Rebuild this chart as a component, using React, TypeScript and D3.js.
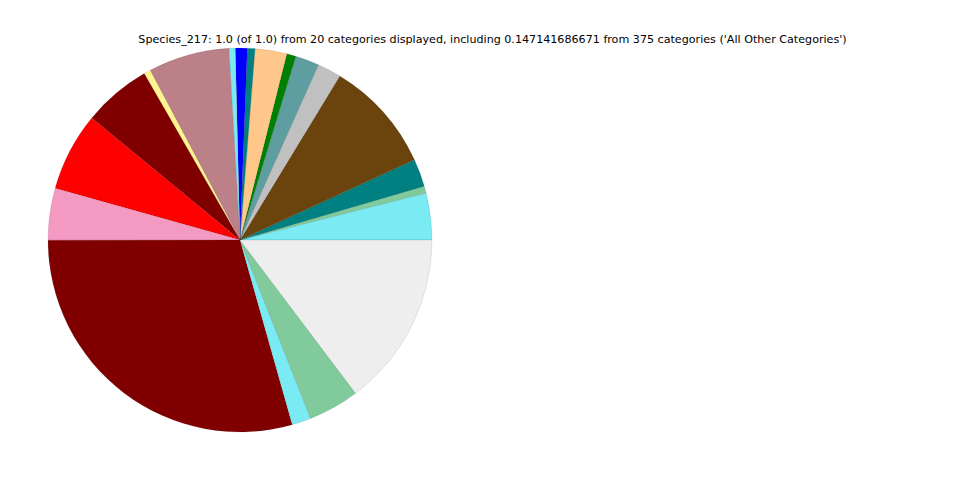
import React from "react";
import * as d3 from "d3";

const title =
  "Species_217: 1.0 (of 1.0) from 20 categories displayed, including 0.147141686671 from 375 categories ('All Other Categories')";

const categories = [
  "Cat 1", "Cat 2", "Cat 3", "Cat 4", "Cat 5", "Cat 6", "Cat 7", "Cat 8", "Cat 9", "Cat 10",
  "Cat 11", "Cat 12", "Cat 13", "Cat 14", "Cat 15", "Cat 16", "Cat 17", "Cat 18", "Cat 19",
  "All Other Categories",
];

const values = [
  0.0394, 0.0058, 0.0233, 0.0944, 0.02, 0.02, 0.0078, 0.0267, 0.0064, 0.01,
  0.0053, 0.0683, 0.0056, 0.0572, 0.0661, 0.0436, 0.2936, 0.0161, 0.0428, 0.1471,
];

const colors = [
  "#7AEBF2", "#80CA9B", "#008080", "#6B440D", "#C0C0C0", "#5F9EA0", "#008000", "#FFC78A",
  "#008080", "#0000FF", "#7AEBF2", "#BC8088", "#FFF58F", "#800000", "#FF0000", "#F49AC2",
  "#800000", "#7AEBF2", "#80CA9B", "#EEEEEE",
];

export default function App() {
  const W = 960;
  const H = 480;
  const cx = 240;
  const cy = 240;
  const r = 192;

  const data = categories.map((c, i) => ({ c, v: values[i], color: colors[i] }));
  // matplotlib: start at 3 o'clock, counterclockwise
  const pie = d3
    .pie<{ c: string; v: number; color: string }>()
    .value((d) => d.v)
    .sort(null)
    .startAngle(Math.PI / 2)
    .endAngle(Math.PI / 2 - 2 * Math.PI);
  const arc = d3.arc<d3.PieArcDatum<{ c: string; v: number; color: string }>>()
    .innerRadius(0)
    .outerRadius(r);
  const arcs = pie(data);

  return (
    <svg
      width={W}
      height={H}
      style={{ position: "absolute", left: 0, top: 0, background: "#fff" }}
    >
      <g transform={`translate(${cx},${cy})`}>
        {arcs.map((a, i) => (
          <path
            key={i}
            d={arc(a) || ""}
            fill={a.data.color}
            stroke="#000"
            strokeOpacity={0.15}
            strokeWidth={0.6}
          />
        ))}
      </g>
      <text
        x={492.5}
        y={43}
        textAnchor="middle"
        fontFamily="DejaVu Sans"
        fontSize={11.13}
        fill="#000"
      >
        {title}
      </text>
    </svg>
  );
}
